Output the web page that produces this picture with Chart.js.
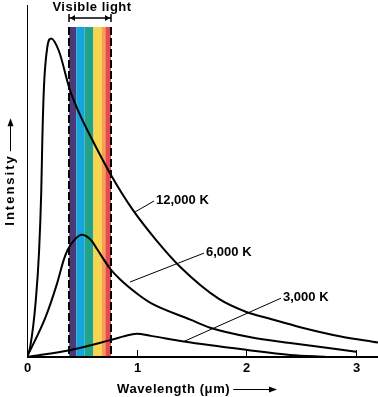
<!DOCTYPE html>
<html>
<head>
<meta charset="utf-8">
<script src="https://cdn.jsdelivr.net/npm/chart.js@4"></script>
<style>
  html, body { margin: 0; padding: 0; background: #ffffff; }
  #wrap { width: 378px; height: 397px; }
</style>
</head>
<body>
<div id="wrap"><canvas id="c" width="378" height="397"></canvas></div>
<script>
// ---- Data (wavelength in µm, intensity in arbitrary units 0-100) ----
const wl12000 = [0, 0.03, 0.08, 0.11, 0.13, 0.14, 0.155, 0.185, 0.22, 0.29, 0.39, 0.48, 0.59, 0.76, 0.96, 1.17, 1.40, 1.75, 2.00, 2.20, 2.50, 2.85, 3.20];
const in12000 = [0, 3, 16, 30, 47, 62, 77, 88, 90.5, 87, 76, 69, 62, 52, 42, 33.5, 25.5, 16.5, 12.8, 11, 8.4, 5.9, 4.1];

const wl6000 = [0, 0.17, 0.275, 0.335, 0.37, 0.43, 0.50, 0.59, 0.64, 0.76, 0.85, 1.02, 1.13, 1.49, 1.67, 2.04, 2.40, 3.00];
const in6000 = [0, 11.4, 21, 27.6, 30.4, 33.2, 34.7, 33.0, 30.6, 25.0, 22.0, 17.6, 15.3, 10.6, 8.3, 5.6, 4.0, 1.5];

const wl3000 = [0, 0.40, 0.76, 0.94, 1.00, 1.13, 1.43, 2.01, 2.40, 2.73];
const in3000 = [0, 2.0, 4.8, 6.3, 6.6, 6.0, 4.4, 2.0, 0.6, 0];

const seriesNames = ['12,000 K', '6,000 K', '3,000 K'];

// visible band: stripe edges (µm) and colours
const bandEdges = [0.385, 0.45, 0.525, 0.605, 0.68, 0.715, 0.765];
const bandColors = ['#4a3b78', '#14a5de', '#21a289', '#f8d54e', '#f6a04c', '#e64a4f'];

const xTicks = [0, 1, 2, 3];
const xTickLabels = ['0', '1', '2', '3'];

// label anchors (data units): text position and leader end on curve
const labelText = [[1.167, 44.6], [1.623, 29.8], [2.325, 17.0]];
const labelLeaderEnd = [[0.985, 41.2], [0.939, 21.3], [1.422, 4.3]];

function pts(xs, ys) { return xs.map((x, i) => ({ x: x, y: ys[i] })); }

const FONT = 'bold 13px "Liberation Sans", Arial, sans-serif';

const decor = {
  id: 'decor',
  beforeDatasetsDraw(chart) {
    const ctx = chart.ctx, xs = chart.scales.x, ca = chart.chartArea;
    const bandTop = 27;
    ctx.save();
    for (let i = 0; i < bandColors.length; i++) {
      const x0 = xs.getPixelForValue(bandEdges[i]);
      const x1 = xs.getPixelForValue(bandEdges[i + 1]);
      ctx.fillStyle = bandColors[i];
      ctx.fillRect(x0, bandTop, x1 - x0, ca.bottom - bandTop);
    }
    // dashed borders
    ctx.strokeStyle = '#000';
    ctx.lineWidth = 2;
    ctx.setLineDash([8, 3]);
    [bandEdges[0], bandEdges[bandEdges.length - 1]].forEach(v => {
      const x = Math.round(xs.getPixelForValue(v));
      ctx.beginPath();
      ctx.moveTo(x, bandTop);
      ctx.lineTo(x, ca.bottom);
      ctx.stroke();
    });
    ctx.setLineDash([]);
    // bracket above band
    const xl = Math.round(xs.getPixelForValue(bandEdges[0]));
    const xr = Math.round(xs.getPixelForValue(bandEdges[bandEdges.length - 1]));
    const yb = 18;
    ctx.lineWidth = 1.5;
    ctx.beginPath();
    ctx.moveTo(xl, yb); ctx.lineTo(xr, yb);
    ctx.moveTo(xl, yb - 4); ctx.lineTo(xl, yb + 4);
    ctx.moveTo(xr, yb - 4); ctx.lineTo(xr, yb + 4);
    ctx.stroke();
    ctx.fillStyle = '#000';
    ctx.beginPath();
    ctx.moveTo(xl + 1, yb); ctx.lineTo(xl + 6, yb - 3); ctx.lineTo(xl + 6, yb + 3); ctx.closePath();
    ctx.moveTo(xr - 1, yb); ctx.lineTo(xr - 6, yb - 3); ctx.lineTo(xr - 6, yb + 3); ctx.closePath();
    ctx.fill();
    ctx.font = FONT;
    ctx.letterSpacing = '0.5px';
    ctx.textAlign = 'center';
    ctx.textBaseline = 'middle';
    ctx.fillText('Visible light', (xl + xr) / 2 + 2, 7);
    ctx.restore();
  },
  afterDatasetsDraw(chart) {
    const ctx = chart.ctx, xs = chart.scales.x, ys = chart.scales.y, ca = chart.chartArea;
    ctx.save();
    ctx.strokeStyle = '#000';
    ctx.fillStyle = '#000';
    // axes
    const x0 = Math.round(xs.getPixelForValue(0)) + 0.5;
    ctx.lineWidth = 1;
    ctx.beginPath();
    ctx.moveTo(x0, ca.top); ctx.lineTo(x0, ca.bottom);
    ctx.stroke();
    ctx.lineWidth = 2;
    ctx.beginPath();
    ctx.moveTo(x0 - 0.5, ca.bottom); ctx.lineTo(ca.right, ca.bottom);
    ctx.stroke();
    // ticks (inside) and labels
    ctx.lineWidth = 1;
    ctx.font = FONT;
    ctx.textAlign = 'center';
    ctx.textBaseline = 'middle';
    xTicks.forEach((t, i) => {
      const px = Math.round(xs.getPixelForValue(t)) + 0.5;
      if (t !== 0) {
        ctx.beginPath();
        ctx.moveTo(px, ca.bottom); ctx.lineTo(px, ca.bottom - 7);
        ctx.stroke();
      }
      ctx.fillText(xTickLabels[i], px, ca.bottom + 11);
    });
    // series labels with leaders
    ctx.textAlign = 'left';
    seriesNames.forEach((name, i) => {
      const tx = xs.getPixelForValue(labelText[i][0]);
      const ty = ys.getPixelForValue(labelText[i][1]);
      const ex = xs.getPixelForValue(labelLeaderEnd[i][0]);
      const ey = ys.getPixelForValue(labelLeaderEnd[i][1]);
      ctx.beginPath();
      ctx.moveTo(tx - 1, ty + 1); ctx.lineTo(ex, ey);
      ctx.stroke();
      ctx.fillText(name, tx + 1, ty);
    });
    // x axis title with arrow
    ctx.textAlign = 'left';
    ctx.letterSpacing = '0.6px';
    const xt = 'Wavelength (\u03bcm)';
    ctx.fillText(xt, 117, 389);
    const w = ctx.measureText(xt).width;
    const ax0 = 117 + w + 3, ax1 = 277, ay = 389.5;
    ctx.beginPath();
    ctx.moveTo(ax0, ay); ctx.lineTo(ax1 - 6, ay);
    ctx.stroke();
    ctx.beginPath();
    ctx.moveTo(ax1, ay); ctx.lineTo(ax1 - 8, ay - 3); ctx.lineTo(ax1 - 8, ay + 3); ctx.closePath();
    ctx.fill();
    // y axis title with arrow
    ctx.save();
    ctx.translate(10, 190);
    ctx.rotate(-Math.PI / 2);
    ctx.textAlign = 'center';
    ctx.letterSpacing = '2px';
    ctx.fillText('Intensity', 0, 0);
    const hw = ctx.measureText('Intensity').width / 2;
    ctx.beginPath();
    ctx.moveTo(hw + 3, 0.5); ctx.lineTo(hw + 30, 0.5);
    ctx.stroke();
    ctx.beginPath();
    ctx.moveTo(hw + 36, 0.5); ctx.lineTo(hw + 28, -2.5); ctx.lineTo(hw + 28, 3.5); ctx.closePath();
    ctx.fill();
    ctx.restore();
    ctx.restore();
  }
};

new Chart(document.getElementById('c'), {
  type: 'line',
  data: {
    datasets: [
      { label: seriesNames[0], data: pts(wl12000, in12000) },
      { label: seriesNames[1], data: pts(wl6000, in6000) },
      { label: seriesNames[2], data: pts(wl3000, in3000) }
    ]
  },
  options: {
    responsive: false,
    animation: false,
    devicePixelRatio: 1,
    layout: { padding: { left: 27, right: 0, top: 5, bottom: 40 } },
    elements: {
      line: { borderColor: '#000', borderWidth: 2, cubicInterpolationMode: 'monotone', fill: false },
      point: { radius: 0 }
    },
    scales: {
      x: { type: 'linear', min: 0, max: 3.2, display: false },
      y: { min: 0, max: 100, display: false }
    },
    plugins: { legend: { display: false }, tooltip: { enabled: false } }
  },
  plugins: [decor]
});
</script>
</body>
</html>
